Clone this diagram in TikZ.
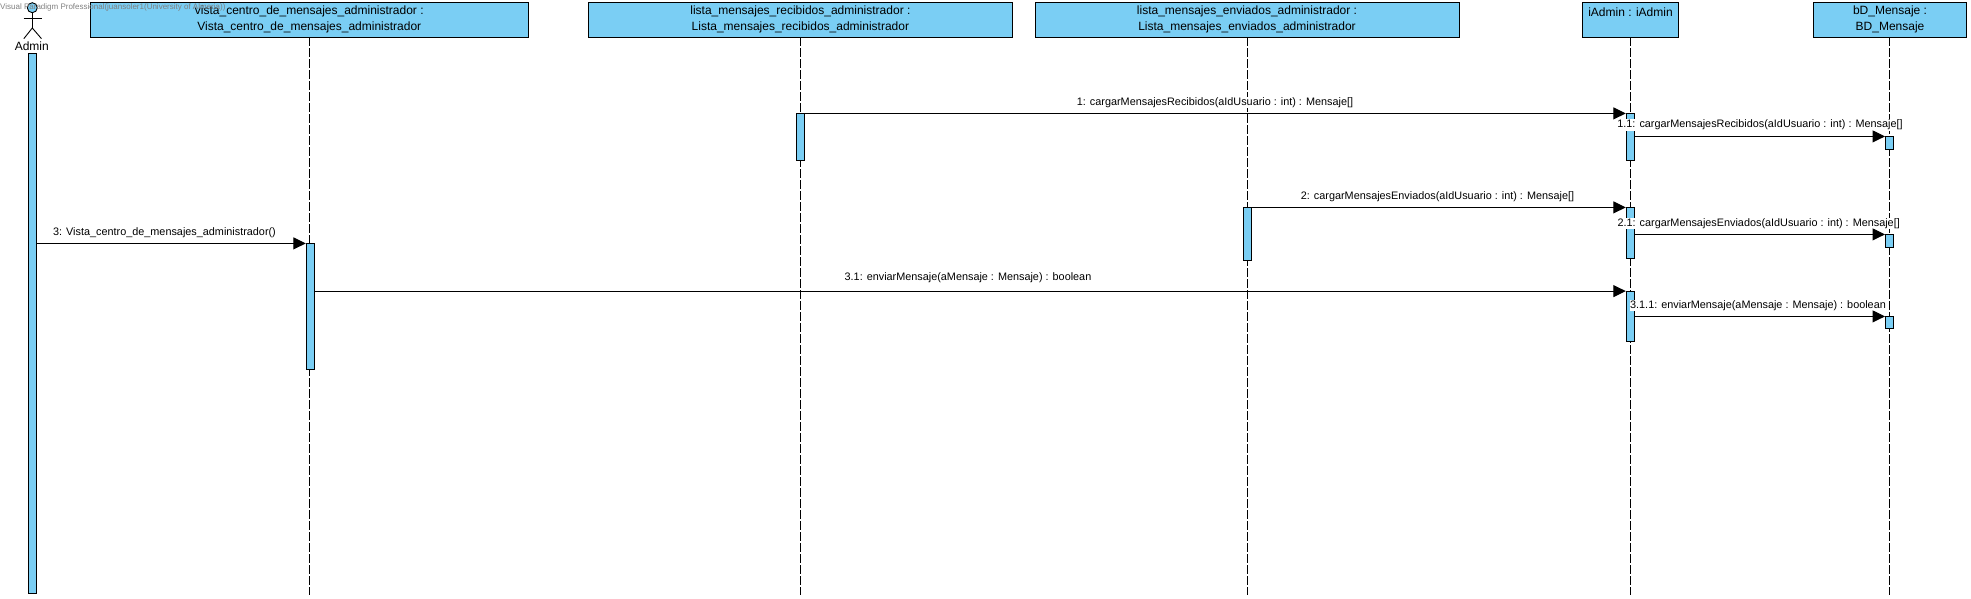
\documentclass[tikz,border=0pt]{standalone}
\usepackage{fontspec}
\setmainfont{Liberation Sans}
\usetikzlibrary{arrows.meta}
\definecolor{vpblue}{HTML}{7ACEF4}
\tikzset{
  objbox/.style={draw=black,fill=vpblue,line width=1pt,rectangle,inner sep=0pt,align=center,font=\fontsize{12}{16}\selectfont,execute at begin node={\rule{0pt}{10.4pt}}},
  lifeline/.style={draw=black,line width=1pt,dash pattern=on 8.5pt off 2.5pt},
  actbar/.style={draw=black,fill=vpblue,line width=1pt,rectangle,inner sep=0pt,minimum width=8pt},
  msg/.style={draw=black,line width=1pt,-{Triangle[length=12.5pt,width=12pt]},shorten >=0pt},
  msglabel/.style={fill=white,inner xsep=0.5pt,inner ysep=0.5pt,font=\fontsize{10.85}{12}\selectfont},
  stick/.style={draw=black,line width=0.9pt}
}
\begin{document}
\begin{tikzpicture}[x=1pt,y=-1pt]
\useasboundingbox (0,0) rectangle (1971,598);
% object boxes
\node[objbox,minimum width=437.5pt,minimum height=34.5pt] (vista) at (309.3,19.75) {vista\_centro\_de\_mensajes\_administrador :\\Vista\_centro\_de\_mensajes\_administrador};
\node[objbox,minimum width=423.5pt,minimum height=34.5pt] (recib) at (800.4,19.75) {lista\_mensajes\_recibidos\_administrador :\\Lista\_mensajes\_recibidos\_administrador};
\node[objbox,minimum width=424pt,minimum height=34.5pt] (envia) at (1247,19.75) {lista\_mensajes\_enviados\_administrador :\\Lista\_mensajes\_enviados\_administrador};
\node[objbox,minimum width=96.4pt,minimum height=34.5pt] (iadmin) at (1630.5,19.75) {iAdmin : iAdmin\\\mbox{}};
\node[objbox,minimum width=153.4pt,minimum height=34.5pt] (bd) at (1890,19.75) {bD\_Mensaje :\\BD\_Mensaje};
% actor
\node[circle,draw=black,fill=vpblue,line width=0.9pt,minimum size=10pt,inner sep=0pt] (head) at (32.3,7.7) {};
\coordinate (hip) at (32.3,28);
\coordinate (armL) at (23.5,18.3);
\coordinate (armR) at (41.8,18.3);
\coordinate (footL) at (23.8,38.7);
\coordinate (footR) at (41.5,38.7);
\draw[stick] (head.south) -- (hip);
\draw[stick] (armL) -- (armR);
\draw[stick] (footL) -- (hip) -- (footR);
\node[inner sep=0pt,font=\fontsize{12}{14}\selectfont] (admin) at (31.8,46) {Admin};
% lifeline ends
\coordinate (vistaTop) at (309.3,37);
\coordinate (vistaEnd) at (309.3,595);
\coordinate (recibTop) at (800.4,37);
\coordinate (recibEnd) at (800.4,595);
\coordinate (enviaTop) at (1247.6,37);
\coordinate (enviaEnd) at (1247.6,595);
\coordinate (iadminTop) at (1630.3,37);
\coordinate (iadminEnd) at (1630.3,595);
\coordinate (bdTop) at (1889.3,37);
\coordinate (bdEnd) at (1889.3,595);
\draw[lifeline] (vistaTop) -- (vistaEnd);
\draw[lifeline] (recibTop) -- (recibEnd);
\draw[lifeline] (enviaTop) -- (enviaEnd);
\draw[lifeline] (iadminTop) -- (iadminEnd);
\draw[lifeline] (bdTop) -- (bdEnd);
% activations
\node[actbar,minimum height=540pt] (aAdmin) at (32.3,323.5) {};
\node[actbar,minimum height=126pt] (aVista) at (310.3,306.9) {};
\node[actbar,minimum height=47pt] (aRecib) at (800.4,137.4) {};
\node[actbar,minimum height=53pt] (aEnvia) at (1247.4,234.4) {};
\node[actbar,minimum height=47pt] (ia1) at (1630.3,137.4) {};
\node[actbar,minimum height=51pt] (ia2) at (1630.3,233.4) {};
\node[actbar,minimum height=49.7pt] (ia3) at (1630.3,316.45) {};
\node[actbar,minimum height=12.4pt] (bd1) at (1889.5,143.1) {};
\node[actbar,minimum height=12.4pt] (bd2) at (1889.5,241.1) {};
\node[actbar,minimum height=12pt] (bd3) at (1889.5,322.9) {};
% message ends on the bars
\coordinate (s3) at (aAdmin.east |- aVista.north);
\coordinate (s31) at (aVista.east |- ia3.north);
\coordinate (s11) at (ia1.east |- bd1.north);
\coordinate (s21) at (ia2.east |- bd2.north);
\coordinate (s311) at (ia3.east |- bd3.north);
% labels under arrows
\node[msglabel] (l1) at (1215,102.3) {1: cargarMensajesRecibidos(aIdUsuario : int) : Mensaje[]};
\node[msglabel] (l11) at (1760,125) {1.1: cargarMensajesRecibidos(aIdUsuario : int) : Mensaje[]};
\node[msglabel] (l2) at (1437.5,196.3) {2: cargarMensajesEnviados(aIdUsuario : int) : Mensaje[]};
\node[msglabel] (l21) at (1758.7,223.3) {2.1: cargarMensajesEnviados(aIdUsuario : int) : Mensaje[]};
\node[msglabel] (l3) at (164.5,232.3) {3: Vista\_centro\_de\_mensajes\_administrador()};
\node[msglabel] (l31) at (968,277.5) {3.1: enviarMensaje(aMensaje : Mensaje) : boolean};
\node[msglabel] (l311) at (1758,305.3) {3.1.1: enviarMensaje(aMensaje : Mensaje) : boolean};
% messages
\draw[msg] (aRecib.north east) -- (ia1.north west);
\draw[msg] (s11) -- (bd1.north west);
\draw[msg] (aEnvia.north east) -- (ia2.north west);
\draw[msg] (s21) -- (bd2.north west);
\draw[msg] (s3) -- (aVista.north west);
\draw[msg] (s31) -- (ia3.north west);
\draw[msg] (s311) -- (bd3.north west);
% watermark
\node[inner sep=0pt,anchor=west,text=black!50,font=\fontsize{8}{10}\selectfont] (mark) at (0,7.5) {Visual Paradigm Professional(juansoler1(University of Almeria))};
\end{tikzpicture}
\end{document}
